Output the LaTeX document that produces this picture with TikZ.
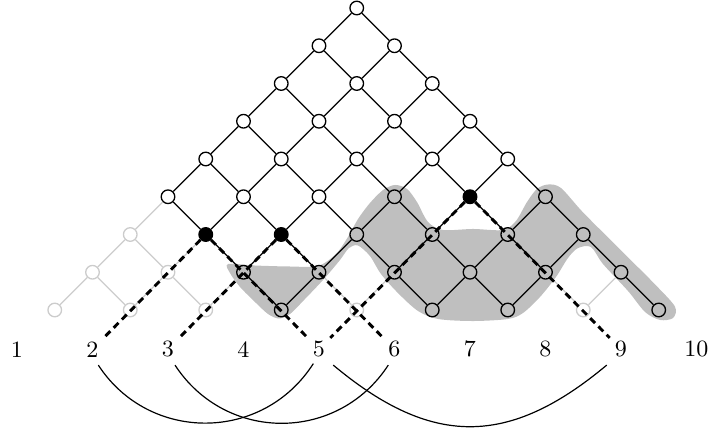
\documentclass[tikz,border=0pt]{standalone}
\usepackage{tikz}
\definecolor{lightg}{gray}{0.8}
\definecolor{blobg}{gray}{0.75}
\newcommand\marklight[1]{\expandafter\gdef\csname lt#1\endcsname{}}
\marklight{1-2}\marklight{2-3}\marklight{3-4}\marklight{1-3}\marklight{2-4}
\marklight{1-4}\marklight{5-6}\marklight{8-9}
\tikzset{
  nd/.style={circle, draw=black, fill=white, line width=0.5pt, minimum size=0.18cm, inner sep=0pt},
  ltnd/.style={draw=lightg, fill=white},
  bknd/.style={fill=black},
  grnd/.style={fill=blobg},
  lat/.style={line width=0.45pt},
  dsh/.style={line width=1.1pt, dash pattern=on 2.6pt off 1.8pt},
  lab/.style={font=\fontsize{8.8}{10}\selectfont, inner sep=1.8pt},
  chord/.style={line width=0.45pt},
  st-1-2/.style=ltnd, st-2-3/.style=ltnd, st-3-4/.style=ltnd, st-1-3/.style=ltnd,
  st-2-4/.style=ltnd, st-1-4/.style=ltnd, st-5-6/.style=ltnd, st-8-9/.style=ltnd,
  st-2-5/.style=bknd, st-3-6/.style=bknd, st-5-9/.style=bknd,
  st-3-5/.style=grnd, st-4-5/.style=grnd, st-4-6/.style=grnd, st-4-7/.style=grnd,
  st-4-8/.style=grnd, st-5-7/.style=grnd, st-5-8/.style=grnd, st-6-7/.style=grnd,
  st-6-8/.style=grnd, st-7-8/.style=grnd, st-6-9/.style=grnd, st-7-9/.style=grnd,
  st-6-10/.style=grnd, st-7-10/.style=grnd, st-8-10/.style=grnd, st-9-10/.style=grnd
}
\begin{document}
\begin{tikzpicture}[x=1cm,y=1cm]
\useasboundingbox (0.775,-1.156) rectangle (10.166,4.606);
% shaded region
\fill[blobg] plot[smooth cycle, tension=0.5] coordinates {
 (3.795,1.109) (4.152,1.089) (4.616,1.076) (4.987,1.083) (5.225,1.242)
 (5.384,1.467) (5.517,1.705) (5.675,1.917) (5.848,2.089) (6.007,2.156)
 (6.166,2.103) (6.298,1.930) (6.444,1.666) (6.642,1.560) (7.040,1.573)
 (7.437,1.560) (7.609,1.679) (7.755,1.930) (7.887,2.103) (8.033,2.162)
 (8.205,2.116) (8.500,1.790) (9.000,1.290) (9.450,0.840) (9.715,0.545)
 (9.689,0.394) (9.517,0.368) (9.318,0.474) (9.093,0.752) (8.762,1.109)
 (8.603,1.334) (8.430,1.320) (8.298,1.189) (8.139,0.937) (7.927,0.672)
 (7.702,0.460) (7.503,0.381) (7.040,0.354) (6.576,0.381) (6.311,0.487)
 (6.046,0.725) (5.821,0.977) (5.675,1.215) (5.517,1.354) (5.397,1.321)
 (5.278,1.162) (5.066,0.911) (4.815,0.646) (4.616,0.447) (4.470,0.387)
 (4.325,0.447) (4.152,0.606) (3.954,0.805) (3.821,0.990)};
% lattice nodes
\foreach \a in {1,...,9}{
  \pgfmathtruncatemacro\bs{\a+1}
  \foreach \b in {\bs,...,10}{
    \node[nd, st-\a-\b/.try] (n\a-\b) at ({(\a+\b)/2},{(\b-\a)/2}) {};
  }
}
% labels
\foreach \i in {1,...,10}{
  \node[lab] (l\i) at (\i,-0.02) {\i};
}
% lattice edges
\foreach \a in {1,...,8}{
  \pgfmathtruncatemacro\bs{\a+2}
  \foreach \b in {\bs,...,10}{
    \pgfmathtruncatemacro\bl{\b-1}
    \pgfmathtruncatemacro\ar{\a+1}
    \def\ca{black}\def\cb{black}
    \ifcsname lt\a-\b\endcsname \def\ca{lightg}\def\cb{lightg}\fi
    \ifcsname lt\a-\bl\endcsname \def\ca{lightg}\fi
    \ifcsname lt\ar-\b\endcsname \def\cb{lightg}\fi
    \draw[lat, draw=\ca] (n\a-\b) -- (n\a-\bl);
    \draw[lat, draw=\cb] (n\a-\b) -- (n\ar-\b);
  }
}
% dashed lines
\draw[dsh] (n2-5) -- (l2);
\draw[dsh] (n2-5) -- (l5);
\draw[dsh] (n3-6) -- (l3);
\draw[dsh] (n3-6) -- (l6);
\draw[dsh] (n5-9) -- (l5);
\draw[dsh] (n5-9) -- (l9);
% chords
\draw[chord] ([shift={(0.077,-0.21)}]l2.center) .. controls (2.747,-1.258) and (4.255,-1.258) .. ([shift={(-0.075,-0.19)}]l5.center);
\draw[chord] ([shift={(0.093,-0.21)}]l3.center) .. controls (3.763,-1.258) and (5.248,-1.258) .. ([shift={(-0.082,-0.21)}]l6.center);
\draw[chord] ([shift={(0.189,-0.21)}]l5.center) .. controls (6.489,-1.318) and (7.511,-1.318) .. ([shift={(-0.189,-0.21)}]l9.center);
\end{tikzpicture}
\end{document}
